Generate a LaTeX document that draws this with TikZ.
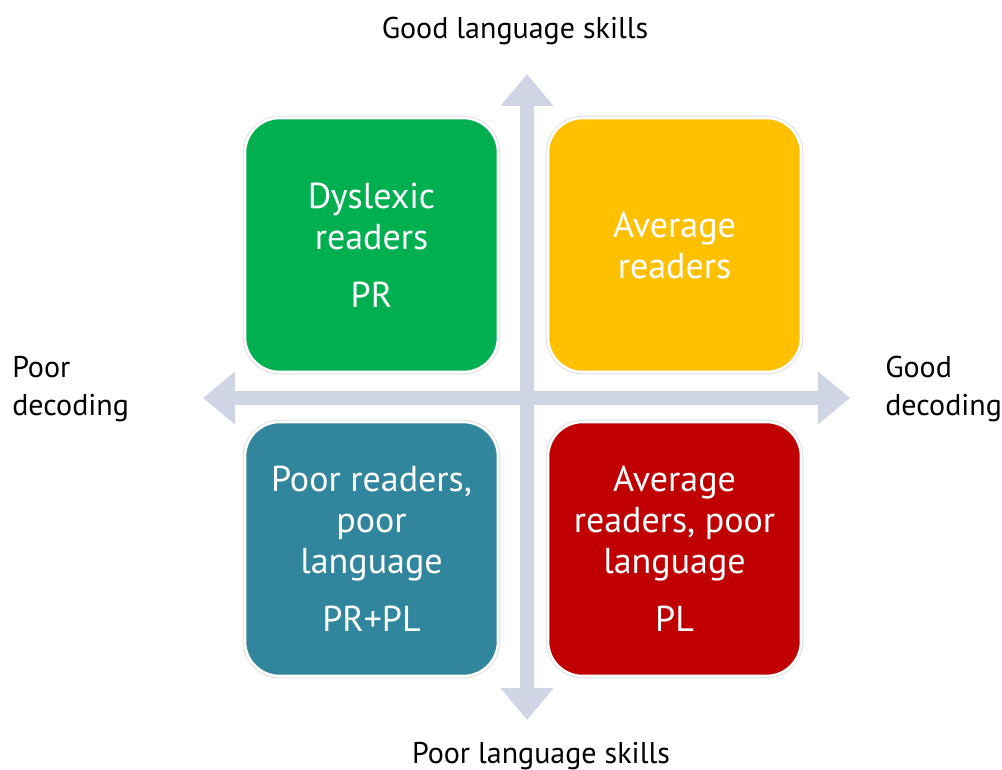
\documentclass[tikz,border=0pt]{standalone}
\usepackage{fontspec}
\setmainfont{PT Sans}
\usetikzlibrary{arrows.meta,positioning}
\definecolor{greenq}{RGB}{0,176,80}
\definecolor{yellowq}{RGB}{255,192,0}
\definecolor{tealq}{RGB}{49,133,156}
\definecolor{redq}{RGB}{192,0,0}
\definecolor{axisq}{RGB}{207,213,228}
\tikzset{
          quad/.style={
            rectangle,rounded corners=26pt,
            minimum width=189.75pt,minimum height=190.5pt,
            inner sep=0pt,outer sep=0pt,align=center,text=white,
            font=\fontsize{27}{30.75}\selectfont,
            preaction={draw=black!12,line width=3.4pt},
            draw=white,line width=1.9pt
          },
          axis/.style={
            draw=axisq,line width=10.5pt,
            {Triangle[width=38.25pt,length=24pt]}-{Triangle[width=38.25pt,length=24pt]}
          },
          label/.style={font=\fontsize{22.5}{28.5}\selectfont,inner sep=0pt}
        }
\begin{document}
\begin{tikzpicture}[x=0.75pt,y=-0.75pt,node distance=37.5pt]
            \useasboundingbox (0,0) rectangle (1002,770);

            % axes
            \coordinate (top) at (527,74);
            \coordinate (bottom) at (527,720);
            \coordinate (left) at (203,398);
            \coordinate (right) at (850,398);
            \draw[axis] (bottom) -- (top);
            \draw[axis] (left) -- (right);

            % quadrants
            \node[quad,fill=greenq] (dyslexic) at (371.5,245)
              {Dyslexic\\readers\\[13pt]PR};
            \node[quad,fill=yellowq,right=of dyslexic] (average)
              {Average\\readers};
            \node[quad,fill=tealq,below=of dyslexic] (poor)
              {Poor readers,\\poor\\language\\[13pt]PR+PL};
            \node[quad,fill=redq,right=of poor] (avgpl)
              {Average\\readers, poor\\language\\[13pt]PL};

            % axis labels
            \node[label] (goodlang) at (515,31) {Good language skills};
            \node[label] (poorlang) at (541,756) {Poor language skills};
            \node[label,anchor=west,align=left] (poordec) at (12,389)
              {Poor\\decoding};
            \node[label,anchor=west,align=left] (gooddec) at (885,389)
              {Good\\decoding};
\end{tikzpicture}
\end{document}
